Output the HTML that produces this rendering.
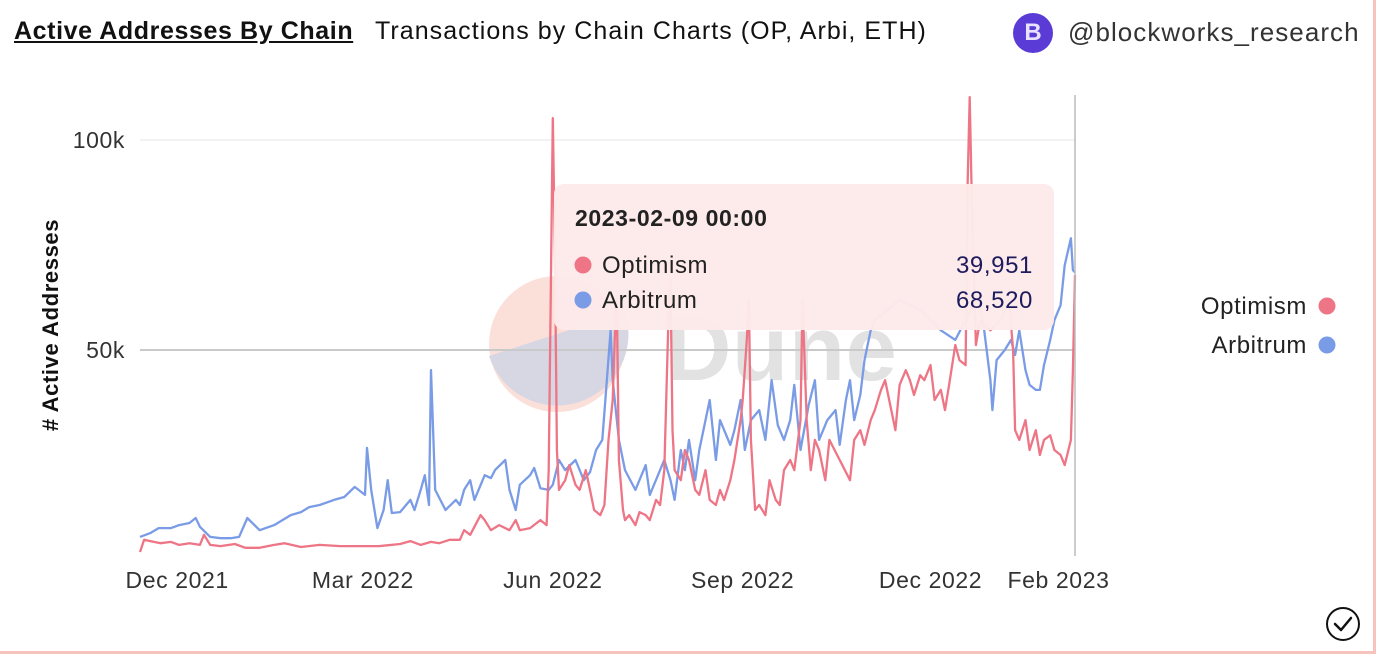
<!DOCTYPE html>
<html><head><meta charset="utf-8">
<style>
html,body{margin:0;padding:0;background:#fff;}
body{width:1378px;height:656px;position:relative;overflow:hidden;font-family:"Liberation Sans",sans-serif;color:#222;}
.frame{position:absolute;left:0;top:0;width:1373px;height:651px;border-right:3px solid #f7c3bd;border-bottom:3px solid #f7c3bd;}
.title{position:absolute;left:14px;top:17px;font-size:25px;font-weight:bold;text-decoration:underline;color:#111;letter-spacing:0.6px;}
.sub{position:absolute;left:375px;top:17px;font-size:25px;color:#111;letter-spacing:1.05px;}
.handle{position:absolute;left:1068px;top:17px;font-size:26px;color:#333;letter-spacing:1.05px;}
.avatar{position:absolute;left:1013px;top:13px;width:40px;height:40px;border-radius:50%;background:#5b3bd6;color:#e8e2ff;font-weight:bold;font-size:24px;text-align:center;line-height:40px;}
svg{position:absolute;left:0;top:0;}
svg text{letter-spacing:0.6px;}
</style></head><body>
<div class="frame"></div>
<div class="title">Active Addresses By Chain</div>
<div class="sub">Transactions by Chain Charts (OP, Arbi, ETH)</div>
<div class="avatar">B</div>
<div class="handle">@blockworks_research</div>
<svg id="chart" width="1378" height="656"></svg>
<script>
const tickVals = [50, 100];
const tickLabels = ["50k", "100k"];
const xTickDays = [18, 108, 200, 292, 383, 445];
const xTickLabels = ["Dec 2021", "Mar 2022", "Jun 2022", "Sep 2022", "Dec 2022", "Feb 2023"];
const arbDays = [0,5,9,15,19,24,27,29,34,39,44,48,52,58,65,73,78,82,87,94,99,104,109,110,112,115,118,120,122,126,131,133,136,138,140,141,143,148,153,155,157,160,162,167,170,172,177,179,182,184,189,191,194,198,200,203,206,211,215,218,221,224,226,228,229,232,235,240,245,247,252,254,257,259,262,264,266,269,271,276,279,281,286,288,291,293,296,300,303,306,309,312,315,317,320,324,327,329,333,337,339,342,344,346,349,351,354,356,368,378,388,395,400,405,407,409,412,413,415,419,422,424,426,429,431,434,436,438,441,443,446,448,451,452,453];
const arbVals = [5.5,6.4,7.6,7.6,8.3,8.8,10.0,7.9,5.5,5.2,5.2,5.5,10.0,7.1,8.3,10.7,11.4,12.6,13.1,14.3,15.0,17.4,15.5,26.7,16.7,7.6,11.9,19.0,11.2,11.4,14.3,11.9,16.7,20.2,13.1,45.2,16.7,11.9,14.3,13.1,16.7,19.0,14.3,20.2,19.5,21.4,23.8,16.7,11.9,17.9,20.2,21.9,17.1,16.7,17.9,23.8,21.4,23.8,19.0,20.9,26.2,28.6,41.7,54.7,42.8,28.6,21.4,16.7,22.6,15.5,21.4,23.8,19.0,14.3,26.2,21.4,28.6,19.0,26.2,38.1,23.8,33.3,27.4,30.9,38.1,26.2,33.3,35.7,28.6,42.8,32.1,28.6,33.3,41.7,26.2,36.9,42.8,28.6,33.3,35.7,27.4,38.1,42.8,33.3,39.3,47.6,54.7,57.1,61.9,59.5,54.7,52.4,57.1,61.9,60.7,54.7,42.8,35.7,47.6,50.0,52.4,48.8,54.7,45.2,41.7,40.5,40.5,46.4,52.4,57.1,60.7,70.2,76.6,69.0,68.5];
const opDays = [0,2,5,10,15,19,24,29,31,34,39,46,51,58,65,70,78,87,97,107,116,126,131,136,141,145,150,155,157,160,162,165,167,170,174,179,182,184,189,194,197,198,199,200,201,202,203,206,208,211,213,216,218,220,223,225,227,228,229,230,231,232,234,235,237,240,242,245,247,250,252,254,256,257,258,259,262,264,266,269,271,274,276,279,281,283,286,288,291,292,294,295,296,298,300,303,305,308,310,312,315,317,320,321,323,325,327,329,332,334,339,344,346,349,351,354,356,359,361,363,366,368,371,373,375,378,380,383,385,388,390,392,395,397,400,401,402,403,405,407,412,417,419,421,423,424,426,429,431,434,436,438,441,443,446,448,451,452,453];
const opVals = [1.9,4.8,4.5,4.0,4.3,3.6,4.0,3.6,6.0,3.6,3.3,3.8,2.9,2.9,3.6,4.0,3.1,3.6,3.3,3.3,3.3,3.8,4.5,3.6,4.3,4.0,4.8,4.8,7.1,6.0,7.9,10.7,9.5,7.1,8.3,7.1,9.5,7.1,7.6,9.5,8.3,21.4,61.9,105.2,73.8,26.2,16.7,19.0,22.6,17.9,16.7,21.4,16.7,11.9,10.7,13.1,28.6,33.3,38.1,52.4,61.9,23.8,11.9,9.5,10.7,8.3,11.4,10.7,9.5,14.3,13.1,21.4,57.1,66.6,30.9,21.4,19.0,26.2,23.8,16.7,15.5,21.4,14.3,13.1,16.7,14.3,19.0,23.8,33.3,38.1,52.4,61.9,28.6,11.9,13.1,10.7,19.0,14.3,13.1,21.4,23.8,21.4,33.3,61.9,33.3,21.4,28.6,26.2,19.0,28.6,23.8,19.0,28.6,30.9,27.4,33.3,35.7,40.5,42.8,38.1,30.9,41.7,45.2,42.8,39.3,44.0,42.8,46.4,38.1,40.5,35.7,41.7,51.2,47.6,46.4,90.4,110.2,85.7,51.2,57.1,54.7,57.1,59.5,61.9,50.0,30.9,28.6,33.3,26.2,30.9,25.0,28.6,29.7,26.2,25.0,22.6,28.6,45.2,67.8];

const NS = "http://www.w3.org/2000/svg";
const svg = document.getElementById("chart");
const X0 = 140, X1 = 1075, DMAX = 453, Y0 = 560, PXK = 210 / 50;
const xs = d => X0 + d * (X1 - X0) / DMAX;
const ys = v => Y0 - v * PXK;
function mk(tag, attrs, parent) { const e = document.createElementNS(NS, tag); for (const k in attrs) e.setAttribute(k, attrs[k]); (parent || svg).appendChild(e); return e; }

const wm = mk("g", {});


mk("circle", {cx: 557, cy: 344, r: 68, fill: "#fbe0da"}, wm);
mk("path", {d: "M489,356 L625,312 A68,68 0 0 1 489,356 Z", fill: "#d7d6e3"}, wm);
const wt = mk("text", {x: 665, y: 380, "font-size": 92, "font-weight": "bold", fill: "#e2e2e2", "font-family": "Liberation Sans, sans-serif"}, wm);
wt.textContent = "Dune";

tickVals.forEach((v, i) => {
  const g = mk("line", {x1: X0, x2: X1, y1: ys(v), y2: ys(v), stroke: v === 50 ? "#c9c9c9" : "#eeeeee", "stroke-width": v === 50 ? 2 : 1.5});
  
  
  const t = mk("text", {x: 125, y: ys(v) + 8, "text-anchor": "end", "font-size": 23, fill: "#333", "font-family": "Liberation Sans, sans-serif"});
  t.textContent = tickLabels[i];
  
  
});
const yt = mk("text", {x: 0, y: 0, transform: "translate(58,325) rotate(-90)", "text-anchor": "middle", "font-size": 22, "font-weight": "bold", fill: "#111", "font-family": "Liberation Sans, sans-serif"});
yt.textContent = "# Active Addresses";



xTickDays.forEach((d, i) => {
  const t = mk("text", {x: xs(d), y: 588, "text-anchor": "middle", "font-size": 23, fill: "#333", "font-family": "Liberation Sans, sans-serif"});
  t.textContent = xTickLabels[i];
  
  
});

function line(days, vals, color, name) {
  const p = mk("path", {d: days.map((d, i) => (i ? "L" : "M") + xs(d).toFixed(1) + "," + ys(vals[i]).toFixed(1)).join(""), fill: "none", stroke: color, "stroke-width": 2.3, "stroke-linejoin": "round"});
  
  
}
line(arbDays, arbVals, "#7a9be6", "arbitrum-line");
line(opDays, opVals, "#ee7585", "optimism-line");

const hv = mk("line", {x1: X1, x2: X1, y1: 95, y2: 556, stroke: "#bbb", "stroke-width": 1.5});



const tg = mk("g", {});


mk("rect", {x: 554, y: 184, width: 500, height: 146, rx: 10, fill: "#fde9e9", opacity: 0.97}, tg);
const tt = mk("text", {x: 575, y: 226, "font-size": 23, "font-weight": "bold", fill: "#222", "font-family": "Liberation Sans, sans-serif"}, tg);
tt.textContent = "2023-02-09 00:00";
[["Optimism", "39,951", "#ee7585", 265], ["Arbitrum", "68,520", "#7a9be6", 300]].forEach(r => {
  mk("circle", {cx: 583, cy: r[3], r: 8.5, fill: r[2]}, tg);
  const a = mk("text", {x: 602, y: r[3] + 8, "font-size": 24, fill: "#222", "font-family": "Liberation Sans, sans-serif"}, tg);
  a.textContent = r[0];
  const b = mk("text", {x: 1033, y: r[3] + 8, "text-anchor": "end", "font-size": 24, fill: "#1d1b5e", "font-family": "Liberation Sans, sans-serif"}, tg);
  b.textContent = r[1];
});

[["Optimism", "#ee7585", 306], ["Arbitrum", "#7a9be6", 345]].forEach(r => {
  const g = mk("g", {});
  
  
  const t = mk("text", {x: 1307, y: r[2] + 8, "text-anchor": "end", "font-size": 24, fill: "#222", "font-family": "Liberation Sans, sans-serif"}, g);
  t.textContent = r[0];
  mk("circle", {cx: 1327, cy: r[2], r: 8.5, fill: r[1]}, g);
});

const ck = mk("g", {});


mk("circle", {cx: 1343, cy: 624, r: 16, fill: "none", stroke: "#111", "stroke-width": 2}, ck);
mk("path", {d: "M1335,624 L1341,630 L1351,618", fill: "none", stroke: "#111", "stroke-width": 2.5, "stroke-linecap": "round", "stroke-linejoin": "round"}, ck);
</script>
</body></html>
